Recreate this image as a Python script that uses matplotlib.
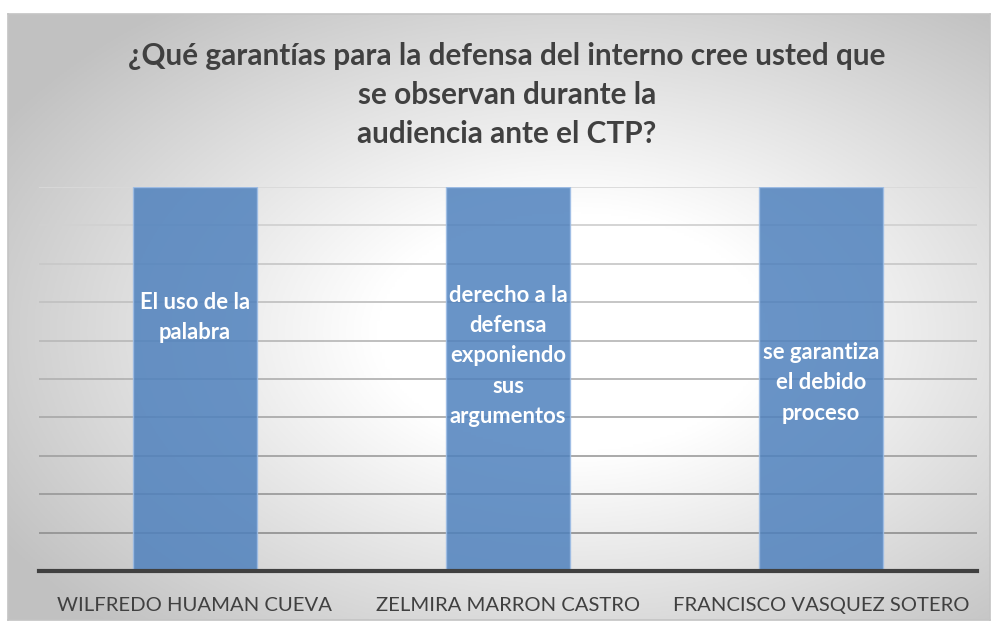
import numpy as np
import matplotlib.pyplot as plt

# data
names = ['WILFREDO HUAMAN CUEVA', 'ZELMIRA MARRON CASTRO', 'FRANCISCO VASQUEZ SOTERO']
values = [1, 1, 1]
answers = ['El uso de la\npalabra',
           'derecho a la\ndefensa\nexponiendo\nsus\nargumentos',
           'se garantiza\nel debido\nproceso']
label_y = [0.66, 0.56, 0.49]  # where each label sits inside its bar
title = '¿Qué garantías para la defensa del interno cree usted que\nse observan durante la\naudiencia ante el CTP?'

W, H = 995, 626
fig = plt.figure(figsize=(W / 100, H / 100), dpi=100)
fig.patch.set_facecolor('white')

# frame with radial grey -> white gradient
fx0, fx1, fy0, fy1 = 8, 990, 14, 620
bg = fig.add_axes([fx0 / W, 1 - fy1 / H, (fx1 - fx0) / W, (fy1 - fy0) / H])
gx, gy = np.meshgrid(np.linspace(-1, 1, 400), np.linspace(-1, 1, 250))
r = np.sqrt(((gx - 0.15) / 1.0) ** 2 + ((gy - 0.05) / 1.0) ** 2)
shade = 1 - 0.24 * np.clip((r - 0.4) / 0.95, 0, 1) ** 1.0
bg.imshow(np.dstack([shade] * 3), aspect='auto', extent=[0, 1, 0, 1])
bg.set_xticks([])
bg.set_yticks([])
for s in bg.spines.values():
    s.set_color('#c4c4c4')
    s.set_linewidth(1.2)

ax = fig.add_axes([38.5 / W, 55 / H, 939 / W, 384 / H])
ax.patch.set_alpha(0)
x = np.arange(len(names))
ax.bar(x, values, width=0.396, color='#4f81bd', alpha=0.85, edgecolor='#9dbde6',
       linewidth=1, zorder=3)
ax.set_xlim(-0.5, len(names) - 0.5)
ax.set_ylim(0, 1)
grid_y = np.arange(0.1, 1.01, 0.1)
for gv in grid_y:
    g = 0.55 + 0.30 * gv  # gridlines get lighter towards the top
    ax.axhline(gv, color=(g, g, g), linewidth=1.3, zorder=1)
ax.set_yticks([])
ax.tick_params(axis='x', length=0, pad=19)
ax.set_xticks(x)
ax.set_xticklabels(names, fontsize=14.6, color='#404040', family='Lato')
for side in ['top', 'left', 'right']:
    ax.spines[side].set_visible(False)
ax.spines['bottom'].set_color('#404040')
ax.spines['bottom'].set_linewidth(3)
ax.spines['bottom'].set_zorder(4)

for i, txt in enumerate(answers):
    ax.text(x[i], label_y[i], txt, ha='center', va='center', color='white',
            fontsize=15.8, fontweight='bold', family='Lato', linespacing=1.55, zorder=5)

fig.text(507 / W, 1 - 95 / H, title, ha='center', va='center', fontsize=21.4,
         fontweight='bold', color='#404040', family='Lato', linespacing=1.48)

fig.savefig('out.png', dpi=100)
